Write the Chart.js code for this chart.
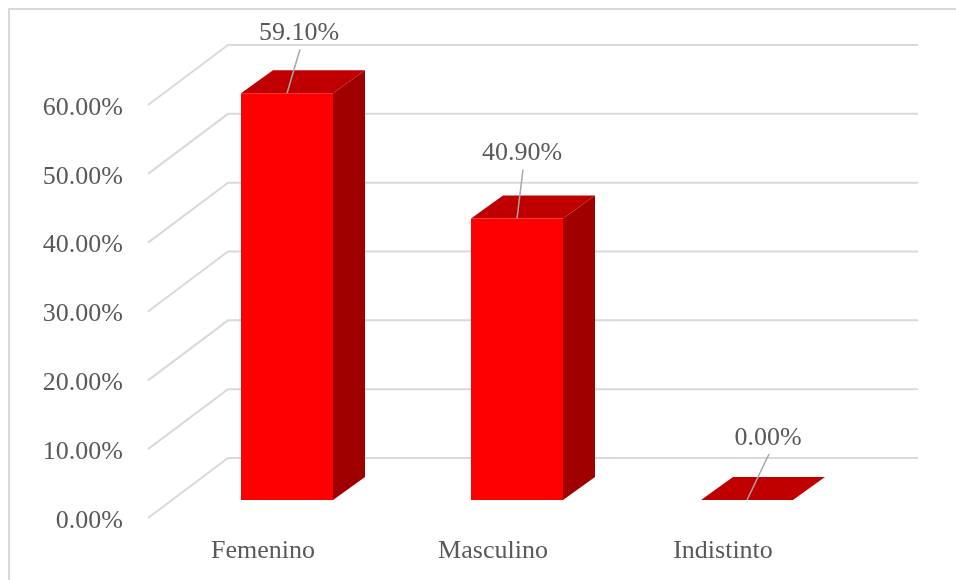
<!DOCTYPE html>
<html>
<head>
<meta charset="utf-8">
<script src="https://cdn.jsdelivr.net/npm/chart.js@4/dist/chart.umd.min.js"></script>
<style>
  html, body { margin: 0; padding: 0; background: #fff; }
  canvas { display: block; }
</style>
</head>
<body>
<canvas id="sexo" width="956" height="580"></canvas>
<script>
const categories = ['Femenino', 'Masculino', 'Indistinto'];
const percentages = [59.10, 40.90, 0.00];
const tickValues = [0, 10, 20, 30, 40, 50, 60];

// where each value label sits relative to the top of its bar
const labelNudge = [[12, -60], [5, -65], [21, -62]];

const FONT = '"Liberation Serif", "Times New Roman", serif';
const TEXT = '#595959';
const GRID = '#d9d9d9';

// 3D offsets: floor depth, bar front inset and bar depth
const WALL = { dx: 80, dy: -60 };
const INSET = { dx: 24, dy: -18 };
const DEPTH = { dx: 32, dy: -23 };

function poly(ctx, pts, color) {
    ctx.beginPath();
    ctx.moveTo(pts[0][0], pts[0][1]);
    for (let i = 1; i < pts.length; i++) ctx.lineTo(pts[i][0], pts[i][1]);
    ctx.closePath();
    ctx.fillStyle = color;
    ctx.fill();
}

const boxPlugin = {
    id: 'box3d',
    beforeDraw(chart) {
        const ctx = chart.ctx;
        ctx.save();
        ctx.strokeStyle = GRID;
        ctx.lineWidth = 2;
        ctx.strokeRect(9, 9, 1000, 1000);
        ctx.restore();
    },
    beforeDatasetsDraw(chart) {
        const ctx = chart.ctx;
        const y = chart.scales.y;
        const area = chart.chartArea;
        ctx.save();
        ctx.strokeStyle = GRID;
        ctx.lineWidth = 2;
        tickValues.forEach(v => {
            const py = y.getPixelForValue(v);
            ctx.beginPath();
            ctx.moveTo(area.left, py);
            ctx.lineTo(area.left + WALL.dx, py + WALL.dy);
            ctx.lineTo(area.right + WALL.dx, py + WALL.dy);
            ctx.stroke();
        });
        ctx.restore();
    },
    afterDatasetsDraw(chart) {
        const ctx = chart.ctx;
        const meta = chart.getDatasetMeta(0);
        ctx.save();
        meta.data.forEach((bar, i) => {
            const half = bar.width / 2;
            const l = bar.x - half + INSET.dx;
            const r = bar.x + half + INSET.dx;
            const t = bar.y + INSET.dy;
            const b = bar.base + INSET.dy;
            // top face
            poly(ctx, [[l, t], [r, t], [r + DEPTH.dx, t + DEPTH.dy], [l + DEPTH.dx, t + DEPTH.dy]], '#c00000');
            if (b - t > 0.5) {
                // side face
                poly(ctx, [[r, t], [r + DEPTH.dx, t + DEPTH.dy], [r + DEPTH.dx, b + DEPTH.dy], [r, b]], '#a00000');
                // front face
                poly(ctx, [[l, t], [r, t], [r, b], [l, b]], '#ff0000');
            }

            // value label with leader line
            const cx = bar.x + INSET.dx;
            const lx = cx + labelNudge[i][0];
            const ly = t + labelNudge[i][1];
            ctx.strokeStyle = '#a6a6a6';
            ctx.lineWidth = 1.5;
            ctx.beginPath();
            ctx.moveTo(lx + 1, ly + 16);
            ctx.lineTo(cx, t);
            ctx.stroke();
            ctx.fillStyle = TEXT;
            ctx.font = '26px ' + FONT;
            ctx.textAlign = 'center';
            ctx.textBaseline = 'middle';
            ctx.fillText(percentages[i].toFixed(2) + '%', lx, ly);
        });
        ctx.restore();
    }
};

const ctx = document.getElementById('sexo').getContext('2d');
const chart = new Chart(ctx, {
    type: 'bar',
    data: {
        labels: categories,
        datasets: [{
            label: 'Sexo',
            data: percentages,
            backgroundColor: 'rgba(0,0,0,0)',
            borderWidth: 0,
            barPercentage: 0.4,
            categoryPercentage: 1
        }]
    },
    options: {
        responsive: false,
        animation: false,
        layout: { padding: { left: 0, top: 105, right: 118, bottom: 0 } },
        plugins: {
            legend: { display: false },
            tooltip: { enabled: false }
        },
        scales: {
            x: {
                grid: { display: false, drawTicks: false },
                border: { display: false },
                ticks: { color: TEXT, font: { family: FONT, size: 26 }, padding: 18 },
                afterFit(scale) { scale.height = 62; }
            },
            y: {
                min: 0,
                max: 60,
                grid: { display: false, drawTicks: false },
                border: { display: false },
                ticks: {
                    stepSize: 10,
                    color: TEXT,
                    font: { family: FONT, size: 26 },
                    padding: 25,
                    labelOffset: 3,
                    callback: v => v.toFixed(2) + '%'
                },
                afterFit(scale) { scale.width = 148; }
            }
        }
    },
    plugins: [boxPlugin]
});
</script>
</body>
</html>
